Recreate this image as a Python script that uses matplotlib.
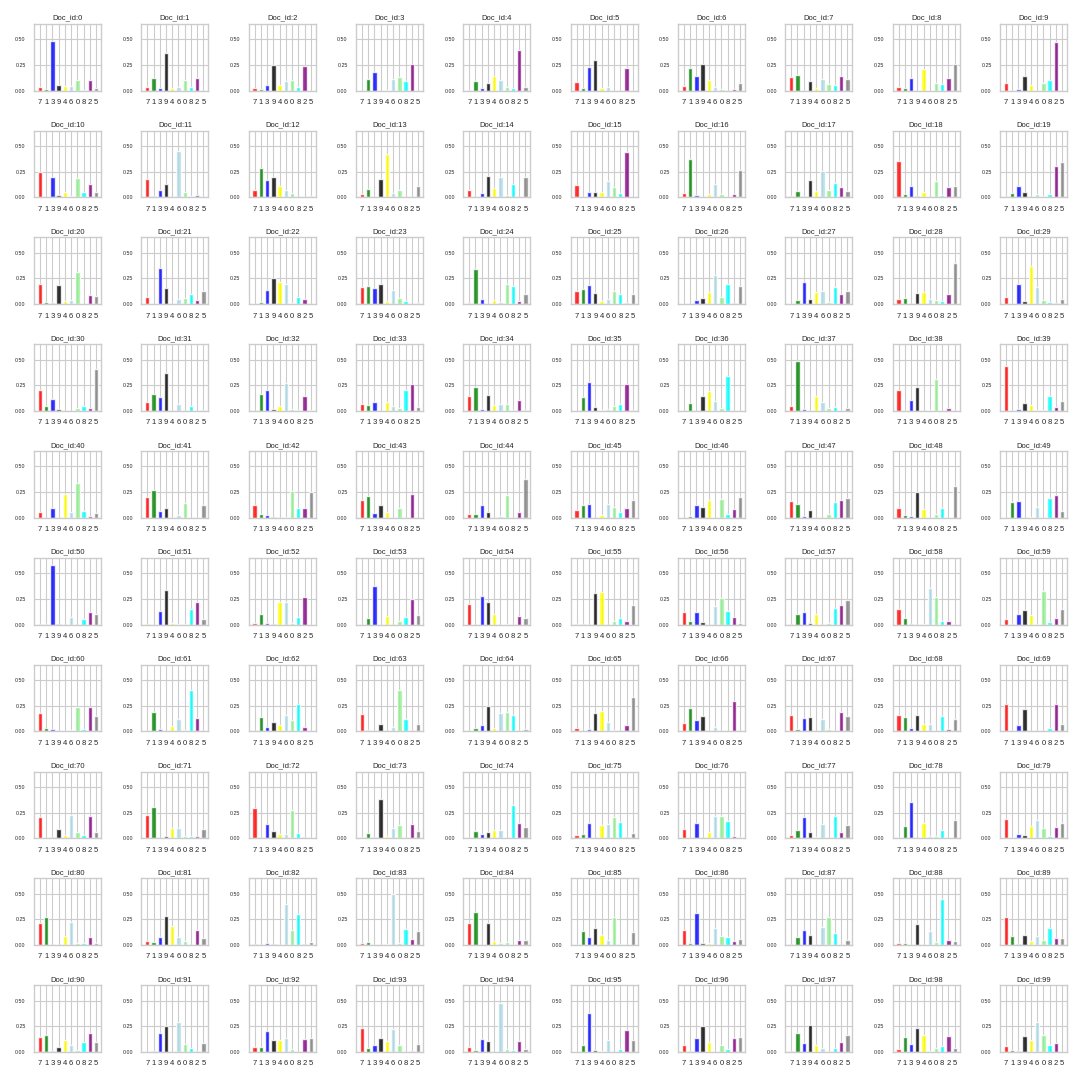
import matplotlib
matplotlib.use("Agg")
import matplotlib.pyplot as plt
import seaborn as sns
import numpy as np

topic_labels = ['7', '1', '3', '9', '4', '6', '0', '8', '2', '5']
bar_colors = ['red', 'green', 'blue', 'black', 'yellow',
              'lightblue', 'lightgreen', 'cyan', 'purple', 'gray']

weights_row0 = [
    [0.03, 0.01, 0.48, 0.055, 0.04, 0.04, 0.10, 0.003, 0.105, 0.02],
    [0.035, 0.12, 0.025, 0.37, 0.02, 0.035, 0.10, 0.035, 0.125, 0.0],
    [0.025, 0.015, 0.055, 0.25, 0.055, 0.09, 0.10, 0.035, 0.24, 0.0],
    [0.0, 0.11, 0.185, 0.0, 0.007, 0.11, 0.135, 0.09, 0.26, 0.0],
    [0.003, 0.09, 0.025, 0.07, 0.145, 0.10, 0.03, 0.02, 0.39, 0.035],
    [0.08, 0.02, 0.23, 0.30, 0.02, 0.03, 0.0, 0.0, 0.22, 0.0],
    [0.04, 0.22, 0.145, 0.26, 0.105, 0.03, 0.01, 0.0, 0.01, 0.07],
    [0.135, 0.155, 0.0, 0.09, 0.02, 0.115, 0.06, 0.05, 0.145, 0.115],
    [0.03, 0.02, 0.125, 0.0, 0.205, 0.0, 0.07, 0.06, 0.125, 0.26],
    [0.07, 0.0, 0.01, 0.145, 0.05, 0.0, 0.07, 0.10, 0.47, 0.0],
]
weights_row1 = [
    [0.245, 0.0, 0.195, 0.02, 0.05, 0.01, 0.185, 0.05, 0.13, 0.05],
    [0.175, 0.01, 0.07, 0.13, 0.0, 0.45, 0.05, 0.01, 0.02, 0.0],
    [0.07, 0.285, 0.165, 0.195, 0.11, 0.07, 0.04, 0.0, 0.0, 0.01],
    [0.03, 0.08, 0.0, 0.175, 0.42, 0.04, 0.07, 0.0, 0.0, 0.11],
    [0.07, 0.0, 0.04, 0.205, 0.09, 0.195, 0.02, 0.13, 0.0, 0.195],
    [0.12, 0.003, 0.05, 0.05, 0.05, 0.16, 0.10, 0.04, 0.44, 0.0],
    [0.04, 0.37, 0.02, 0.0, 0.03, 0.13, 0.03, 0.0, 0.03, 0.265],
    [0.01, 0.06, 0.01, 0.165, 0.06, 0.255, 0.07, 0.14, 0.10, 0.06],
    [0.35, 0.03, 0.11, 0.01, 0.05, 0.0, 0.16, 0.02, 0.10, 0.11],
    [0.01, 0.04, 0.11, 0.05, 0.0, 0.03, 0.01, 0.03, 0.31, 0.34],
]
weights_row2 = [
    [0.195, 0.02, 0.01, 0.185, 0.03, 0.04, 0.31, 0.0, 0.09, 0.08],
    [0.07, 0.0, 0.35, 0.16, 0.0, 0.05, 0.06, 0.10, 0.04, 0.13],
    [0.0, 0.02, 0.14, 0.255, 0.215, 0.195, 0.01, 0.07, 0.05, 0.0],
    [0.165, 0.175, 0.16, 0.195, 0.03, 0.14, 0.06, 0.03, 0.0, 0.01],
    [0.01, 0.34, 0.05, 0.0, 0.04, 0.02, 0.195, 0.175, 0.03, 0.10],
    [0.13, 0.15, 0.185, 0.11, 0.03, 0.05, 0.13, 0.10, 0.01, 0.10],
    [0.003, 0.0, 0.04, 0.06, 0.12, 0.285, 0.07, 0.195, 0.01, 0.175],
    [0.003, 0.04, 0.215, 0.05, 0.12, 0.13, 0.02, 0.165, 0.10, 0.13],
    [0.05, 0.06, 0.0, 0.11, 0.12, 0.05, 0.04, 0.03, 0.10, 0.40],
    [0.07, 0.0, 0.195, 0.03, 0.37, 0.165, 0.04, 0.02, 0.01, 0.05],
]
weights_row3 = [
    [0.20, 0.05, 0.12, 0.02, 0.0, 0.0, 0.03, 0.05, 0.03, 0.41],
    [0.09, 0.17, 0.14, 0.365, 0.0, 0.07, 0.0, 0.05, 0.0, 0.01],
    [0.0, 0.17, 0.20, 0.02, 0.05, 0.275, 0.02, 0.01, 0.15, 0.01],
    [0.07, 0.06, 0.09, 0.0, 0.09, 0.05, 0.03, 0.20, 0.265, 0.04],
    [0.15, 0.235, 0.02, 0.16, 0.06, 0.07, 0.07, 0.01, 0.11, 0.01],
    [0.0, 0.14, 0.285, 0.04, 0.01, 0.02, 0.05, 0.07, 0.265, 0.01],
    [0.0, 0.08, 0.0, 0.15, 0.19, 0.10, 0.03, 0.345, 0.0, 0.0],
    [0.05, 0.49, 0.02, 0.0, 0.15, 0.09, 0.03, 0.04, 0.0, 0.03],
    [0.20, 0.01, 0.11, 0.23, 0.0, 0.01, 0.315, 0.0, 0.03, 0.0],
    [0.435, 0.0, 0.02, 0.08, 0.06, 0.01, 0.01, 0.15, 0.04, 0.10],
]
weights_row4 = [
    [0.06, 0.0, 0.10, 0.0, 0.235, 0.06, 0.335, 0.07, 0.02, 0.05],
    [0.20, 0.275, 0.07, 0.10, 0.0, 0.03, 0.14, 0.0, 0.0, 0.12],
    [0.12, 0.04, 0.03, 0.01, 0.0, 0.01, 0.265, 0.10, 0.10, 0.255],
    [0.17, 0.21, 0.05, 0.12, 0.06, 0.0, 0.10, 0.0, 0.235, 0.0],
    [0.04, 0.04, 0.12, 0.06, 0.0, 0.02, 0.22, 0.0, 0.06, 0.375],
    [0.08, 0.12, 0.13, 0.0, 0.03, 0.13, 0.11, 0.06, 0.10, 0.17],
    [0.0, 0.02, 0.12, 0.11, 0.17, 0.0, 0.18, 0.04, 0.09, 0.205],
    [0.16, 0.13, 0.02, 0.08, 0.0, 0.0, 0.04, 0.15, 0.17, 0.19],
    [0.10, 0.03, 0.02, 0.25, 0.09, 0.0, 0.04, 0.10, 0.0, 0.305],
    [0.0, 0.15, 0.165, 0.0, 0.01, 0.11, 0.0, 0.195, 0.225, 0.07],
]
weights_row5 = [
    [0.01, 0.01, 0.585, 0.01, 0.0, 0.07, 0.0, 0.05, 0.12, 0.10],
    [0.01, 0.0, 0.13, 0.335, 0.02, 0.01, 0.01, 0.15, 0.225, 0.05],
    [0.02, 0.10, 0.02, 0.01, 0.225, 0.225, 0.02, 0.07, 0.265, 0.0],
    [0.0, 0.06, 0.38, 0.0, 0.08, 0.0, 0.04, 0.07, 0.245, 0.09],
    [0.205, 0.0, 0.275, 0.225, 0.10, 0.0, 0.01, 0.0, 0.08, 0.06],
    [0.01, 0.003, 0.0, 0.305, 0.315, 0.0, 0.04, 0.06, 0.04, 0.195],
    [0.12, 0.04, 0.12, 0.03, 0.0, 0.18, 0.255, 0.13, 0.07, 0.02],
    [0.01, 0.10, 0.12, 0.02, 0.10, 0.0, 0.02, 0.165, 0.19, 0.235],
    [0.15, 0.06, 0.01, 0.0, 0.01, 0.36, 0.265, 0.04, 0.04, 0.0],
    [0.05, 0.01, 0.10, 0.14, 0.09, 0.01, 0.325, 0.03, 0.06, 0.15],
]
weights_row6 = [
    [0.18, 0.03, 0.02, 0.0, 0.003, 0.01, 0.24, 0.02, 0.24, 0.15],
    [0.0, 0.19, 0.02, 0.0, 0.05, 0.12, 0.01, 0.40, 0.13, 0.0],
    [0.0, 0.14, 0.04, 0.09, 0.06, 0.16, 0.11, 0.27, 0.04, 0.0],
    [0.17, 0.01, 0.0, 0.07, 0.0, 0.04, 0.40, 0.12, 0.01, 0.07],
    [0.0, 0.03, 0.06, 0.25, 0.03, 0.18, 0.19, 0.16, 0.0, 0.02],
    [0.03, 0.0, 0.02, 0.18, 0.20, 0.09, 0.01, 0.0, 0.06, 0.34],
    [0.08, 0.23, 0.11, 0.15, 0.0, 0.04, 0.0, 0.0, 0.30, 0.0],
    [0.16, 0.02, 0.13, 0.14, 0.0, 0.12, 0.02, 0.0, 0.19, 0.15],
    [0.16, 0.14, 0.03, 0.16, 0.07, 0.07, 0.0, 0.15, 0.02, 0.12],
    [0.27, 0.0, 0.06, 0.22, 0.0, 0.0, 0.0, 0.03, 0.27, 0.07],
]
weights_row7 = [
    [0.205, 0.0, 0.01, 0.09, 0.03, 0.225, 0.06, 0.03, 0.215, 0.06],
    [0.225, 0.30, 0.0, 0.02, 0.10, 0.10, 0.02, 0.02, 0.02, 0.09],
    [0.29, 0.0, 0.135, 0.07, 0.04, 0.04, 0.28, 0.05, 0.01, 0.0],
    [0.01, 0.05, 0.01, 0.38, 0.02, 0.10, 0.125, 0.0, 0.135, 0.07],
    [0.0, 0.07, 0.04, 0.06, 0.08, 0.08, 0.0, 0.32, 0.145, 0.11],
    [0.03, 0.04, 0.145, 0.0, 0.125, 0.135, 0.205, 0.155, 0.01, 0.05],
    [0.09, 0.0, 0.145, 0.0, 0.06, 0.215, 0.215, 0.165, 0.02, 0.01],
    [0.03, 0.08, 0.205, 0.06, 0.01, 0.135, 0.0, 0.215, 0.06, 0.125],
    [0.0, 0.115, 0.35, 0.0, 0.145, 0.02, 0.02, 0.08, 0.0, 0.175],
    [0.185, 0.0, 0.04, 0.03, 0.115, 0.175, 0.10, 0.02, 0.11, 0.145],
]
weights_row8 = [
    [0.215, 0.27, 0.0, 0.0, 0.09, 0.225, 0.02, 0.02, 0.08, 0.02],
    [0.04, 0.03, 0.08, 0.28, 0.185, 0.08, 0.04, 0.0, 0.145, 0.07],
    [0.01, 0.0, 0.02, 0.01, 0.0, 0.40, 0.145, 0.30, 0.01, 0.03],
    [0.02, 0.03, 0.0, 0.0, 0.01, 0.50, 0.02, 0.155, 0.06, 0.135],
    [0.215, 0.32, 0.0, 0.215, 0.04, 0.02, 0.03, 0.0, 0.05, 0.05],
    [0.003, 0.135, 0.08, 0.165, 0.095, 0.05, 0.27, 0.01, 0.0, 0.125],
    [0.145, 0.02, 0.31, 0.02, 0.02, 0.165, 0.09, 0.08, 0.04, 0.06],
    [0.01, 0.08, 0.145, 0.10, 0.0, 0.175, 0.27, 0.115, 0.0, 0.05],
    [0.02, 0.02, 0.0, 0.205, 0.0, 0.135, 0.03, 0.445, 0.05, 0.04],
    [0.27, 0.09, 0.01, 0.10, 0.04, 0.09, 0.05, 0.165, 0.07, 0.07],
]
weights_row9 = [
    [0.145, 0.165, 0.01, 0.05, 0.115, 0.07, 0.02, 0.10, 0.185, 0.10],
    [0.0, 0.01, 0.185, 0.255, 0.0, 0.29, 0.08, 0.04, 0.01, 0.09],
    [0.05, 0.05, 0.205, 0.115, 0.115, 0.135, 0.03, 0.0, 0.125, 0.135],
    [0.235, 0.04, 0.07, 0.135, 0.105, 0.225, 0.07, 0.0, 0.01, 0.08],
    [0.05, 0.02, 0.125, 0.105, 0.0, 0.475, 0.03, 0.02, 0.105, 0.03],
    [0.0, 0.07, 0.38, 0.02, 0.01, 0.115, 0.0, 0.03, 0.215, 0.115],
    [0.07, 0.01, 0.135, 0.255, 0.10, 0.0, 0.07, 0.03, 0.135, 0.145],
    [0.01, 0.185, 0.09, 0.26, 0.07, 0.04, 0.0, 0.04, 0.10, 0.165],
    [0.03, 0.145, 0.08, 0.235, 0.165, 0.01, 0.04, 0.06, 0.155, 0.04],
    [0.06, 0.02, 0.01, 0.155, 0.115, 0.29, 0.165, 0.07, 0.09, 0.0],
]

all_rows = [weights_row0, weights_row1, weights_row2, weights_row3, weights_row4,
            weights_row5, weights_row6, weights_row7, weights_row8, weights_row9]

sns.set_style("whitegrid")
plt.rcParams['font.family'] = ['Liberation Sans', 'DejaVu Sans']

fig, axes = plt.subplots(10, 10, figsize=(10.8, 10.8), dpi=100, sharey=True)
fig.subplots_adjust(left=0.0315, right=0.988, top=0.978, bottom=0.026,
                    wspace=0.6, hspace=0.6)

x = np.arange(len(topic_labels))
doc_id = 0
for r, row in enumerate(all_rows):
    for c, vals in enumerate(row):
        ax = axes[r, c]
        ax.bar(x, vals, width=0.7, color=bar_colors, alpha=0.8)
        ax.set_title(f"Doc_id:{doc_id}", fontsize=5.5, pad=3)
        ax.set_xticks(x)
        ax.set_xticklabels(topic_labels, fontsize=5.5)
        ax.set_xlim(-0.95, 9.8)
        ax.set_ylim(0, 0.65)
        ax.set_yticks([0.0, 0.25, 0.5])
        ax.set_yticklabels(['0.00', '0.25', '0.50'])
        ax.tick_params(axis='y', labelsize=3.8, pad=6, length=0)
        ax.tick_params(axis='x', pad=6, length=0)
        ax.grid(True, color='#cccccc', linewidth=0.8)
        for s in ax.spines.values():
            s.set_color('#cccccc')
            s.set_linewidth(1.0)
        ax.tick_params(axis='y', labelleft=True)
        doc_id += 1

fig.savefig("out.png", dpi=100)
